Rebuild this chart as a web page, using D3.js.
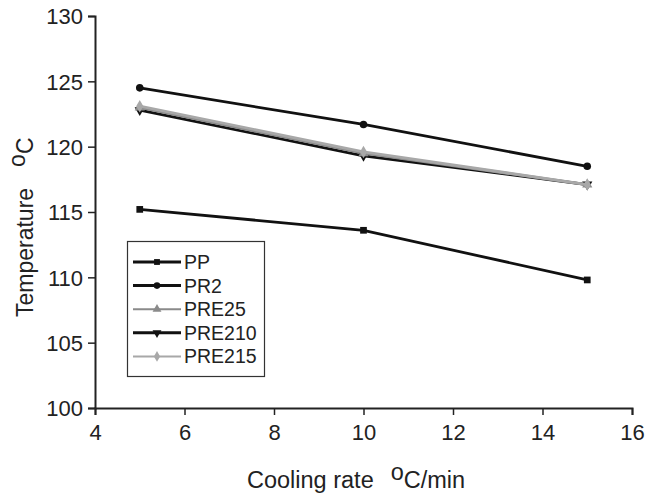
<!DOCTYPE html>
<html>
<head>
<meta charset="utf-8">
<script src="https://cdn.jsdelivr.net/npm/d3@7"></script>
<style>
  body { margin: 0; background: #fff; }
  svg { display: block; font-family: "Liberation Sans", Arial, sans-serif; }
</style>
</head>
<body>
<svg id="chart" width="657" height="497"></svg>
<script>
// DATA
let rates = [5, 10, 15]
let seriesNames = ["PP", "PR2", "PRE25", "PRE210", "PRE215"]
let pp = [115.2, 113.6, 109.8]
let pr2 = [124.5, 121.7, 118.5]
let pre25 = [123.0, 119.5, 117.1]
let pre210 = [122.8, 119.3, 117.1]
let pre215 = [123.1, 119.6, 117.1]
let xTicks = [4, 6, 8, 10, 12, 14, 16]
let yTicks = [100, 105, 110, 115, 120, 125, 130]

let seriesValues = [pp, pr2, pre25, pre210, pre215]
let seriesColours = ["#111", "#111", "#8a8a8a", "#111", "#a8a8a8"]
let seriesSymbols = [d3.symbolSquare, d3.symbolCircle, d3.symbolTriangle, "down", d3.symbolDiamond]

let svg = d3.select('#chart')

// SCALES
let x = d3.scaleLinear().domain([4, 16]).range([95, 632])
let y = d3.scaleLinear().domain([100, 130]).range([408, 16])

// AXES
let xAxis = svg.append('g')
    .attr('transform', `translate(0, ${y(100)})`)
    .call(d3.axisBottom(x).tickValues(xTicks).tickSizeOuter(0).tickSize(7).tickPadding(9))
xAxis.select('.domain').attr('stroke', '#222').attr('stroke-width', 2)
xAxis.selectAll('.tick line').attr('stroke', '#222').attr('stroke-width', 1.5)
xAxis.selectAll('text').attr('font-size', 22).attr('fill', '#222')
    .attr('font-family', '"Liberation Sans", Arial, sans-serif')

let yAxis = svg.append('g')
    .attr('transform', `translate(${x(4)}, 0)`)
    .call(d3.axisLeft(y).tickValues(yTicks).tickSizeOuter(0).tickSize(7).tickPadding(5))
yAxis.select('.domain').attr('stroke', '#222').attr('stroke-width', 2)
yAxis.selectAll('.tick line').attr('stroke', '#222').attr('stroke-width', 1.5)
yAxis.selectAll('text').attr('font-size', 22).attr('fill', '#222').attr('dy', '0.35em')
    .attr('font-family', '"Liberation Sans", Arial, sans-serif')

// AXIS TITLES
let xTitle = svg.append('text')
    .attr('x', 247).attr('y', 488)
    .attr('font-size', 23.5).attr('fill', '#222')
xTitle.append('tspan').text('Cooling rate')
xTitle.append('tspan').attr('dx', 17).attr('dy', -8).text('o')
xTitle.append('tspan').attr('dy', 8).text('C/min')

let yTitle = svg.append('text')
    .attr('transform', 'translate(33, 317) rotate(-90)')
    .attr('font-size', 23).attr('fill', '#222')
yTitle.append('tspan').text('Temperature')
yTitle.append('tspan').attr('dx', 21).attr('dy', -8).text('o')
yTitle.append('tspan').attr('dy', 8).text('C')

function symbolPath(sym, size) {
    if (sym === "down") {
        return d3.symbol().type(d3.symbolTriangle).size(size)()
    }
    return d3.symbol().type(sym).size(size)()
}

// LINES
let line = d3.line()
    .x((d, i) => x(rates[i]))
    .y(d => y(d))

// draw order: PP, PR2, PRE210, PRE25, PRE215 so the grey ones sit on top
let order = [0, 1, 3, 2, 4]
order.forEach(function(s) {
    let g = svg.append('g')
    g.append('path')
        .datum(seriesValues[s])
        .attr('d', line)
        .attr('fill', 'none')
        .attr('stroke', seriesColours[s])
        .attr('stroke-width', 2.8)
    g.selectAll('path.marker')
        .data(seriesValues[s])
        .join('path')
        .classed('marker', true)
        .attr('d', symbolPath(seriesSymbols[s], 45))
        .attr('transform', (d, i) => `translate(${x(rates[i])}, ${y(d)})` + (seriesSymbols[s] === "down" ? ' rotate(180)' : ''))
        .attr('fill', seriesColours[s])
})

// LEGEND
let legend = svg.append('g')
legend.append('rect')
    .attr('x', 127.5).attr('y', 241.5)
    .attr('width', 137).attr('height', 135)
    .attr('fill', '#fff')
    .attr('stroke', '#333')
    .attr('stroke-width', 1.2)

seriesNames.forEach(function(name, i) {
    let ly = 262 + i * 23.6
    let lw = (i === 2 || i === 4) ? 2 : 3
    legend.append('line')
        .attr('x1', 133).attr('x2', 181)
        .attr('y1', ly).attr('y2', ly)
        .attr('stroke', seriesColours[i])
        .attr('stroke-width', lw)
    legend.append('path')
        .attr('d', symbolPath(seriesSymbols[i], 34))
        .attr('transform', `translate(157, ${ly})` + (seriesSymbols[i] === "down" ? ' rotate(180)' : ''))
        .attr('fill', seriesColours[i])
    legend.append('text')
        .attr('x', 184).attr('y', ly)
        .attr('dy', '0.36em')
        .attr('font-size', 19.5)
        .attr('fill', '#222')
        .text(name)
})
</script>
</body>
</html>
